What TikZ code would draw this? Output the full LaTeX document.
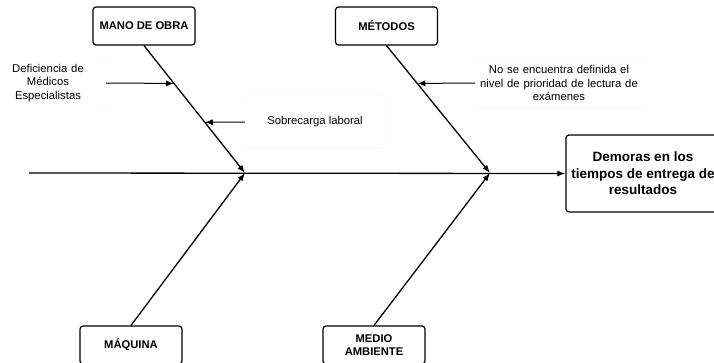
\documentclass[tikz,border=0pt]{standalone}
\usepackage{fontspec}
\setmainfont{Liberation Sans}
\usetikzlibrary{arrows.meta}
\begin{document}
\begin{tikzpicture}[x=1pt,y=-1pt,>={Latex[length=8pt,width=6pt]},
causa/.style={draw,rounded corners=3pt,line width=1.2pt,minimum width=102pt,minimum height=38pt,
  align=center,font=\fontsize{11.2}{13}\selectfont\bfseries},
efectobox/.style={draw,rounded corners=3pt,line width=1.2pt,minimum width=154pt,minimum height=77pt,
  align=center,font=\fontsize{13.5}{16.5}\selectfont\bfseries},
nota/.style={draw=black!4,rounded corners=4pt,align=center,font=\fontsize{11.3}{13.5}\selectfont},
espina/.style={->,line width=1.3pt},
flecha/.style={->,line width=1pt}]

\useasboundingbox (0,0) rectangle (714,362);

% cajas
\node[causa] (manoobra) at (144,26) {MANO DE OBRA};
\node[causa] (metodos) at (386.5,26) {MÉTODOS};
\node[causa] (maquina) at (131,345) {MÁQUINA};
\node[causa] (medio) at (374,345) {MEDIO\\AMBIENTE};
\node[efectobox] (efecto) at (643,173.5) {Demoras en los\\tiempos de entrega de\\resultados};

\coordinate (inicio) at (29,173);
\coordinate (j1) at (245,173);
\coordinate (j2) at (490,173);

% espina central
\draw[espina] (inicio) -- (efecto.west);

% ramas
\draw[espina] (manoobra.south) -- coordinate[pos=0.297] (m1) coordinate[pos=0.6016] (m2) (j1);
\draw[espina] (metodos.south) -- coordinate[pos=0.297] (t1) (j2);
\draw[espina] (maquina.north) -- (j1);
\draw[espina] (medio.north) -- (j2);

% subcausas
\node[nota,text width=100pt,inner xsep=8pt,minimum height=52pt] (deficiencia) at (48,83)
  {Deficiencia de\\Médicos\\Especialistas};
\node[nota,minimum width=140pt,minimum height=53pt] (sobrecarga) at (315,122) {Sobrecarga laboral};
\node[nota,text width=162pt,inner xsep=3pt,minimum height=51pt] (prioridad) at (559,83)
  {No se encuentra definida el\\nivel de prioridad de lectura de\\exámenes};

\draw[flecha] (deficiencia.east) -- (m1);
\draw[flecha] (sobrecarga.west) -- (m2);
\draw[flecha] (prioridad.west) -- (t1);

\end{tikzpicture}
\end{document}
